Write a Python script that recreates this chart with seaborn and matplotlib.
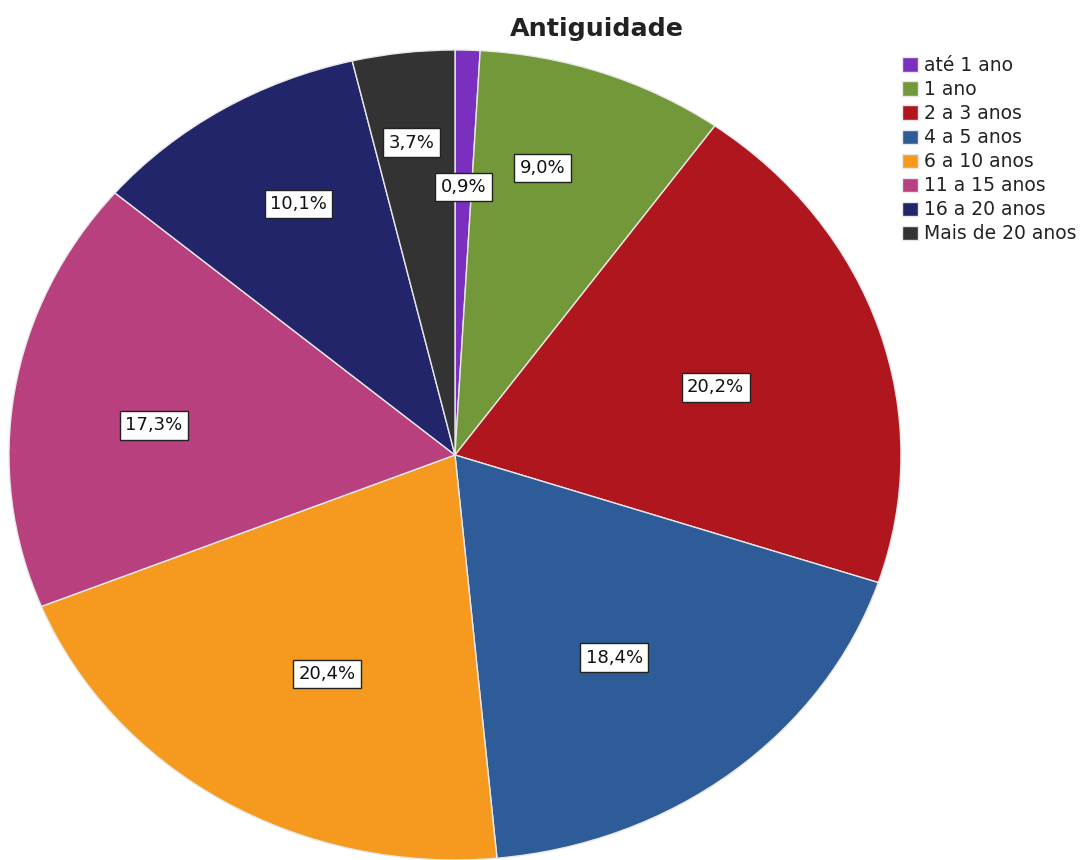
import matplotlib
matplotlib.use("Agg")
import matplotlib.pyplot as plt
import seaborn as sns
import numpy as np

categories = ["até 1 ano", "1 ano", "2 a 3 anos", "4 a 5 anos", "6 a 10 anos",
              "11 a 15 anos", "16 a 20 anos", "Mais de 20 anos"]
values = [0.9, 9.0, 20.2, 18.4, 20.4, 17.3, 10.1, 3.7]
labels = ["0,9%", "9,0%", "20,2%", "18,4%", "20,4%", "17,3%", "10,1%", "3,7%"]
colors = ["#7B2FBE", "#72983A", "#B0161E", "#2D5C99", "#F59A1F",
          "#B8407F", "#23256B", "#333333"]
# label placement style: radial distance (fraction of radius) and angle shift (deg)
label_radius = [0.662, 0.735, 0.608, 0.615, 0.612, 0.679, 0.712, 0.777]
label_shift = [0.0, 4.0, -2.0, -3.0, 3.4, 3.0, -2.0, 0.6]

sns.set_theme(style="white")
plt.rcParams["font.family"] = ["DejaVu Sans"]

fig = plt.figure(figsize=(10.8, 8.6), dpi=100)
ax = fig.add_axes([9 / 1080, 0.0, 892 / 1080, 810 / 860])

wedges, _ = ax.pie(values, colors=colors, startangle=90, counterclock=False,
                   wedgeprops=dict(edgecolor="#E8E8E8", linewidth=1.0))
ax.set_aspect("auto")
ax.set_xlim(-1, 1)
ax.set_ylim(-1, 1)
ax.axis("off")

for w, lab, r, s in zip(wedges, labels, label_radius, label_shift):
    ang = np.deg2rad((w.theta1 + w.theta2) / 2 + s)
    ax.text(r * np.cos(ang), r * np.sin(ang), lab, ha="center", va="center",
            fontsize=13, color="#111111",
            bbox=dict(boxstyle="square,pad=0.3", facecolor="white",
                      edgecolor="#222222", linewidth=1.0))

fig.text(597 / 1080, 1 - 29 / 860, "Antiguidade", ha="center", va="center",
         fontsize=18.3, fontweight="bold", color="#222222")

fig.legend(wedges, categories, loc="upper left",
           bbox_to_anchor=(902 / 1080, 1 - 56 / 860), frameon=False,
           fontsize=13.5, handlelength=0.85, handleheight=0.8, handletextpad=0.32,
           labelspacing=0.27, borderaxespad=0, borderpad=0,
           labelcolor="#222222")

fig.savefig("out.png", dpi=100, facecolor="white")
